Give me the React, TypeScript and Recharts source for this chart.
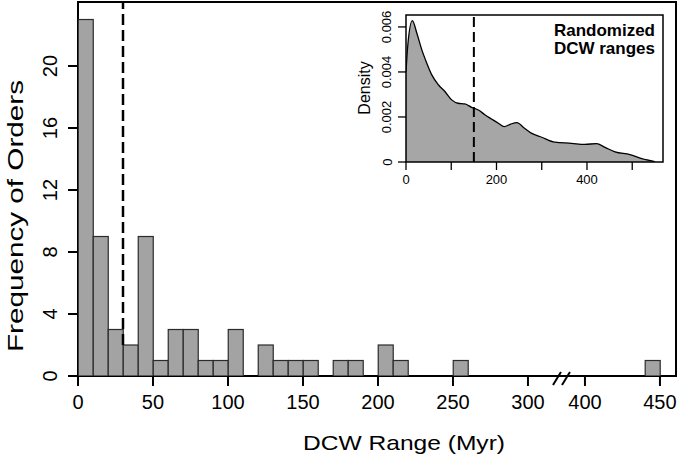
import { ComposedChart, Bar, Area, XAxis, YAxis, ReferenceLine, ReferenceArea } from 'recharts';

/**
 * DCW range histogram with a broken x axis (300 -> 400),
 * plus an inset density plot of randomized DCW ranges.
 */

// Main histogram: 10 Myr bins, value = bin centre
const binCenters = [
  5, 15, 25, 35, 45, 55, 65, 75, 85, 95, 105, 115, 125, 135, 145, 155, 165, 175, 185, 195,
  205, 215, 225, 235, 245, 255, 445,
];
const orderCounts = [
  23, 9, 3, 2, 9, 1, 3, 3, 1, 1, 3, 0, 2, 1, 1, 1, 0, 1, 1, 0,
  2, 1, 0, 0, 0, 1, 1,
];
const BIN_WIDTH = 10;
const xTickValues = [0, 50, 100, 150, 200, 250, 300, 400, 450];
const yTickValues = [0, 4, 8, 12, 16, 20];
const observedLine = 30;

// Inset density curve
const densityX = [
  0, 4, 14, 24, 35, 46, 57, 72, 86, 101, 115, 130, 145, 160, 175, 189, 204, 217, 231, 245,
  262, 278, 300, 329, 366, 395, 421, 440, 462, 495, 521, 550,
];
const densityY = [
  0.0040, 0.0052, 0.00628, 0.00572, 0.00498, 0.00439, 0.00387, 0.00342, 0.00313, 0.00276,
  0.00261, 0.00258, 0.00243, 0.00231, 0.00209, 0.00191, 0.00172, 0.00157, 0.00168, 0.00175,
  0.0015, 0.00127, 0.0011, 0.00088, 0.00083, 0.00078, 0.00082, 0.00065, 0.00045, 0.00033,
  0.00015, 0.00002,
];
const insetXTicks = [0, 100, 200, 300, 400, 500];
const insetXLabelled = [0, 200, 400];
const insetYTicks = [0, 0.002, 0.004, 0.006];
const randomizedLine = 150;

// axis units cut out by the break between 300 and 400
const GAP = 62;
const toAxis = (v: number) => (v > 330 ? v - GAP : v);
const fromAxis = (v: number) => (v > 330 ? v + GAP : v);

const X_MAX = 398.7;
const Y_MAX = 24.13;
const INSET_X_MAX = 568;
const INSET_Y_MAX = 0.00653;

const MAIN_PLOT_W = 598; // px between left and right of the plot box
const BIN_PX = (BIN_WIDTH * MAIN_PLOT_W) / X_MAX;

const FONT = '"Liberation Sans", Arial, sans-serif';

const histData = binCenters.map((c, i) => ({ x: toAxis(c), count: orderCounts[i] }));
const xTickPositions = xTickValues.map(toAxis);
const densityData = densityX.map((x, i) => ({ x, d: densityY[i] }));

// the dashed line sits behind the bars, so it stops at the lower of the two bars it separates
const sideCounts = binCenters
  .map((c, i) => (Math.abs(c - observedLine) === BIN_WIDTH / 2 ? orderCounts[i] : null))
  .filter((v) => v !== null) as number[];
const observedLineBottom = Math.min(...sideCounts);

// full-width histogram bar centred on the bin middle
function HistBar({ x, y, width, height }: any) {
  if (!height) return <g />;
  const cx = x + width / 2;
  return <rect x={cx - BIN_PX / 2} y={y} width={BIN_PX} height={height} fill="#a3a3a3" stroke="#2b2b2b" strokeWidth={1.2} />;
}

function MainXTick({ x, y, payload }: any) {
  return (
    <text x={x} y={y + 14} textAnchor="middle" dominantBaseline="central" fontSize={20} fontFamily={FONT} fill="#000">
      {fromAxis(payload.value)}
    </text>
  );
}

function MainYTick({ x, y, payload }: any) {
  const cx = x - 16;
  return (
    <text x={cx} y={y} transform={`rotate(-90, ${cx}, ${y})`} textAnchor="middle" dominantBaseline="central" fontSize={20} fontFamily={FONT} fill="#000">
      {payload.value}
    </text>
  );
}

function XTitle() {
  return (
    <text x={404} y={442} textAnchor="middle" dominantBaseline="central" fontSize={21} fontFamily={FONT} fill="#000" textLength={202} lengthAdjust="spacingAndGlyphs">
      DCW Range (Myr)
    </text>
  );
}

function YTitle() {
  return (
    <text x={15} y={216} transform="rotate(-90, 15, 216)" textAnchor="middle" dominantBaseline="central" fontSize={22} fontFamily={FONT} fill="#000" textLength={272} lengthAdjust="spacingAndGlyphs">
      Frequency of Orders
    </text>
  );
}

function InsetXTick({ x, y, payload }: any) {
  if (!insetXLabelled.includes(payload.value)) return <g />;
  return (
    <text x={x} y={y + 7} textAnchor="middle" dominantBaseline="central" fontSize={13} fontFamily={FONT} fill="#000">
      {payload.value}
    </text>
  );
}

function InsetYTick({ x, y, payload }: any) {
  const cx = x - 9;
  return (
    <text x={cx} y={y} transform={`rotate(-90, ${cx}, ${y})`} textAnchor="middle" dominantBaseline="central" fontSize={13} fontFamily={FONT} fill="#000">
      {payload.value === 0 ? '0' : payload.value.toFixed(3)}
    </text>
  );
}

function DensityTitle() {
  return (
    <text x={24} y={88} transform="rotate(-90, 24, 88)" textAnchor="middle" dominantBaseline="central" fontSize={16} fontFamily={FONT} fill="#000">
      Density
    </text>
  );
}

export default function App() {
  return (
    <div style={{ position: 'absolute', left: 0, top: 0, width: 679, height: 459, background: '#fff', fontFamily: FONT }}>
      <ComposedChart width={679} height={459} data={histData} margin={{ top: 2, right: 3, bottom: 0, left: 0 }}>
        <XAxis
          dataKey="x"
          type="number"
          domain={[0, X_MAX]}
          ticks={xTickPositions}
          interval={0}
          allowDataOverflow
          axisLine={false}
          tickSize={10}
          tickLine={{ stroke: '#000', strokeWidth: 2 }}
          height={83}
          tick={<MainXTick />}
          label={<XTitle />}
        />
        <YAxis
          type="number"
          domain={[0, Y_MAX]}
          ticks={yTickValues}
          interval={0}
          allowDataOverflow
          axisLine={false}
          tickSize={10}
          tickLine={{ stroke: '#000', strokeWidth: 2 }}
          width={78}
          tick={<MainYTick />}
          label={<YTitle />}
        />
        <ReferenceLine
          segment={[{ x: observedLine, y: observedLineBottom }, { x: observedLine, y: Y_MAX }]}
          stroke="#000"
          strokeWidth={2.5}
          strokeDasharray="11 5"
        />
        <Bar dataKey="count" barSize={15} shape={<HistBar />} isAnimationActive={false} />
        <ReferenceArea x1={0} x2={X_MAX} y1={0} y2={Y_MAX} fill="none" stroke="#000" strokeWidth={2} ifOverflow="visible" />
        {/* axis break marks */}
        <ReferenceLine segment={[{ x: 316.7, y: -0.58 }, { x: 322, y: 0.26 }]} stroke="#000" strokeWidth={2} ifOverflow="visible" />
        <ReferenceLine segment={[{ x: 322.7, y: -0.58 }, { x: 328, y: 0.26 }]} stroke="#000" strokeWidth={2} ifOverflow="visible" />
      </ComposedChart>

      <div style={{ position: 'absolute', left: 340, top: 0 }}>
        <ComposedChart width={330} height={195} data={densityData} margin={{ top: 15, right: 7, bottom: 0, left: 0 }}>
          <XAxis
            dataKey="x"
            type="number"
            domain={[0, INSET_X_MAX]}
            ticks={insetXTicks}
            interval={0}
            allowDataOverflow
            axisLine={false}
            tickSize={8}
            tickLine={{ stroke: '#000', strokeWidth: 1.3 }}
            height={33}
            tick={<InsetXTick />}
          />
          <YAxis
            type="number"
            domain={[0, INSET_Y_MAX]}
            ticks={insetYTicks}
            interval={0}
            allowDataOverflow
            axisLine={false}
            tickSize={8}
            tickLine={{ stroke: '#000', strokeWidth: 1.3 }}
            width={66}
            tick={<InsetYTick />}
            label={<DensityTitle />}
          />
          <Area type="monotone" dataKey="d" stroke="#000" strokeWidth={1.3} fill="#a6a6a6" fillOpacity={1} dot={false} activeDot={false} isAnimationActive={false} />
          <ReferenceLine x={randomizedLine} stroke="#000" strokeWidth={2} strokeDasharray="10 5" />
          <ReferenceArea x1={0} x2={INSET_X_MAX} y1={0} y2={INSET_Y_MAX} fill="none" stroke="#000" strokeWidth={1.5} ifOverflow="visible" />
        </ComposedChart>
      </div>

      <div style={{ position: 'absolute', right: 24, top: 22, textAlign: 'right', fontWeight: 'bold', fontSize: 17, lineHeight: '18px', color: '#000' }}>
        Randomized
        <br />
        DCW ranges
      </div>
    </div>
  );
}
